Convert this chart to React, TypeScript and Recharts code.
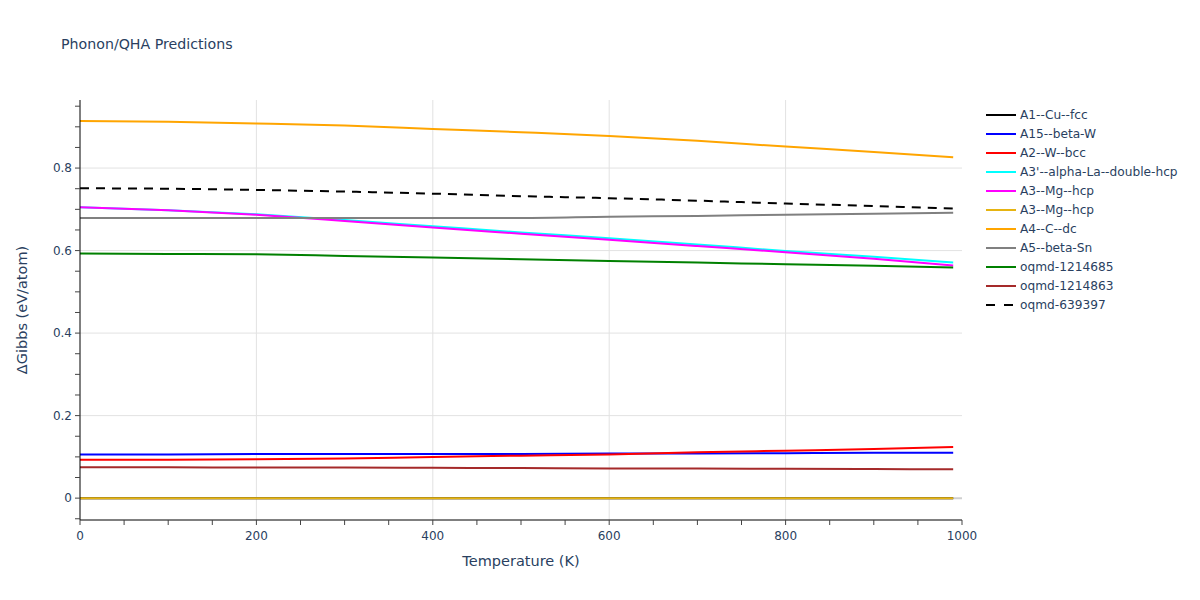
import { LineChart, Line, XAxis, YAxis, CartesianGrid } from "recharts";

const temperatures = [0, 100, 200, 300, 400, 500, 600, 700, 800, 900, 990];

const a1CuFcc = [0, 0, 0, 0, 0, 0, 0, 0, 0, 0, 0];
const a15BetaW = [0.106, 0.106, 0.107, 0.107, 0.107, 0.107, 0.108, 0.108, 0.109, 0.11, 0.11];
const a2WBcc = [0.093, 0.093, 0.094, 0.096, 0.1, 0.103, 0.106, 0.111, 0.115, 0.119, 0.124];
const a3AlphaLa = [0.705, 0.698, 0.688, 0.674, 0.659, 0.644, 0.63, 0.615, 0.599, 0.585, 0.571];
const a3MgHcp = [0.705, 0.698, 0.687, 0.672, 0.656, 0.641, 0.626, 0.611, 0.596, 0.58, 0.564];
const a3MgHcpZero = [0, 0, 0, 0, 0, 0, 0, 0, 0, 0, 0];
const a4CDc = [0.914, 0.912, 0.908, 0.903, 0.895, 0.887, 0.878, 0.866, 0.852, 0.839, 0.826];
const a5BetaSn = [0.679, 0.679, 0.679, 0.679, 0.679, 0.679, 0.682, 0.684, 0.687, 0.689, 0.692];
const oqmd1214685 = [0.593, 0.592, 0.591, 0.587, 0.583, 0.579, 0.575, 0.571, 0.567, 0.563, 0.559];
const oqmd1214863 = [0.075, 0.075, 0.074, 0.074, 0.0735, 0.073, 0.072, 0.072, 0.071, 0.0705, 0.07];
const oqmd639397 = [0.751, 0.75, 0.747, 0.743, 0.738, 0.732, 0.727, 0.721, 0.714, 0.708, 0.702];

const series = [
  { key: "s1", name: "A1--Cu--fcc", values: a1CuFcc, color: "#000000" },
  { key: "s2", name: "A15--beta-W", values: a15BetaW, color: "#0000ff" },
  { key: "s3", name: "A2--W--bcc", values: a2WBcc, color: "#ff0000" },
  { key: "s4", name: "A3'--alpha-La--double-hcp", values: a3AlphaLa, color: "#00ffff" },
  { key: "s5", name: "A3--Mg--hcp", values: a3MgHcp, color: "#ff00ff" },
  { key: "s6", name: "A3--Mg--hcp", values: a3MgHcpZero, color: "#e6b412" },
  { key: "s7", name: "A4--C--dc", values: a4CDc, color: "#ffa500" },
  { key: "s8", name: "A5--beta-Sn", values: a5BetaSn, color: "#808080" },
  { key: "s9", name: "oqmd-1214685", values: oqmd1214685, color: "#008000" },
  { key: "s10", name: "oqmd-1214863", values: oqmd1214863, color: "#a52a2a" },
  { key: "s11", name: "oqmd-639397", values: oqmd639397, color: "#000000", dash: "9 7" },
];

const xTicks = [0, 50, 100, 150, 200, 250, 300, 350, 400, 450, 500, 550, 600, 650, 700, 750, 800, 850, 900, 950, 1000];
const xLabels = [0, 200, 400, 600, 800, 1000];
const yTicks = [-0.05, 0, 0.05, 0.1, 0.15, 0.2, 0.25, 0.3, 0.35, 0.4, 0.45, 0.5, 0.55, 0.6, 0.65, 0.7, 0.75, 0.8, 0.85, 0.9, 0.95];
const yLabels = [0, 0.2, 0.4, 0.6, 0.8];

const data = temperatures.map((t, i) => {
  const row: any = { t };
  series.forEach((s) => (row[s.key] = s.values[i]));
  return row;
});

const font = '"DejaVu Sans", verdana, arial, sans-serif';
const textColor = "#2a3f5f";

const isLabel = (list: number[], v: number) => list.some((l) => Math.abs(l - v) < 1e-9);

const XTick = ({ x, y, payload }: any) =>
  isLabel(xLabels, payload.value) ? (
    <text x={x} y={y} dy={12} textAnchor="middle" fill={textColor} fontSize={12} fontFamily={font}>
      {payload.value}
    </text>
  ) : (
    <g />
  );

const YTick = ({ x, y, payload }: any) =>
  isLabel(yLabels, payload.value) ? (
    <text x={x} y={y} dy={4} textAnchor="end" fill={textColor} fontSize={12} fontFamily={font}>
      {payload.value}
    </text>
  ) : (
    <g />
  );

export default function App() {
  return (
    <div style={{ position: "absolute", left: 0, top: 0, width: 1200, height: 600, background: "#fff", fontFamily: font }}>
      <div style={{ position: "absolute", left: 61, top: 36, fontSize: 14.2, color: textColor }}>
        Phonon/QHA Predictions
      </div>

      <LineChart width={1200} height={600} data={data} margin={{ top: 100, right: 238, bottom: 50, left: 40 }}>
        <CartesianGrid
          stroke="#e2e2e2"
          strokeWidth={1}
          horizontalValues={[0.2, 0.4, 0.6, 0.8]}
          verticalValues={[200, 400, 600, 800]}
        />
        <CartesianGrid stroke="#cfcfcf" strokeWidth={2} horizontalValues={[0]} vertical={false} />
        <XAxis
          dataKey="t"
          type="number"
          domain={[0, 1000]}
          ticks={xTicks}
          interval={0}
          height={30}
          tickSize={5}
          tickMargin={3}
          axisLine={{ stroke: "#000", strokeWidth: 1 }}
          tickLine={{ stroke: "#444" }}
          tick={<XTick />}
          allowDataOverflow
        />
        <YAxis
          type="number"
          domain={[-0.053, 0.965]}
          ticks={yTicks}
          interval={0}
          width={40}
          tickSize={5}
          tickMargin={3}
          axisLine={{ stroke: "#000", strokeWidth: 1 }}
          tickLine={{ stroke: "#444" }}
          tick={<YTick />}
          allowDataOverflow
        />
        {series.map((s) => (
          <Line
            key={s.key}
            dataKey={s.key}
            name={s.name}
            type="monotone"
            stroke={s.color}
            strokeWidth={2}
            strokeDasharray={s.dash}
            dot={false}
            activeDot={false}
            isAnimationActive={false}
          />
        ))}
      </LineChart>

      <div style={{ position: "absolute", left: 521, top: 553, transform: "translateX(-50%)", fontSize: 14.5, color: textColor, whiteSpace: "nowrap" }}>
        Temperature (K)
      </div>
      <div
        style={{
          position: "absolute",
          left: 22,
          top: 310,
          transform: "translate(-50%, -50%) rotate(-90deg)",
          fontSize: 14.5,
          color: textColor,
          whiteSpace: "nowrap",
        }}
      >
        ΔGibbs (eV/atom)
      </div>

      <div style={{ position: "absolute", left: 985, top: 105 }}>
        {series.map((s) => (
          <div key={s.key} style={{ display: "flex", alignItems: "center", height: 19 }}>
            <svg width={32} height={10} style={{ marginRight: 3 }}>
              <line x1={1} y1={5} x2={31} y2={5} stroke={s.color} strokeWidth={2} strokeDasharray={s.dash ? "9 9" : undefined} />
            </svg>
            <span style={{ fontSize: 12.2, color: textColor, whiteSpace: "nowrap" }}>{s.name}</span>
          </div>
        ))}
      </div>
    </div>
  );
}
